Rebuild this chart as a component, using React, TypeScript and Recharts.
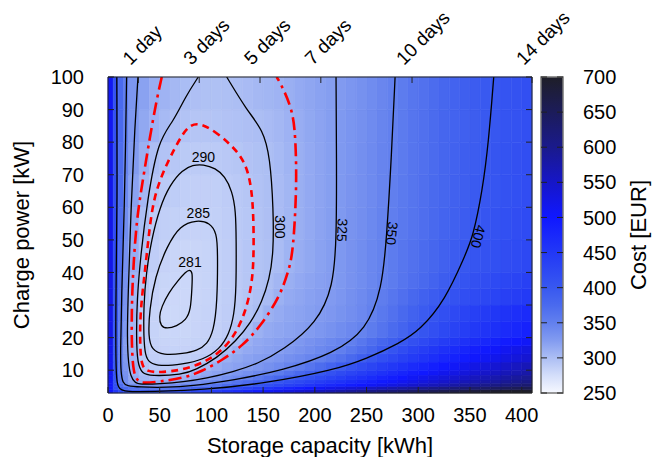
import React from "react";
import {
  ComposedChart,
  Line,
  ReferenceArea,
  Scatter,
  XAxis,
  YAxis,
} from "recharts";

const FONT = '"Liberation Sans", Arial, Helvetica, sans-serif';

// heat map cells: storage capacity edges [kWh] and charge power edges [kW]
const capacityEdges = [
  0, 5, 10, 15, 20, 30, 40, 50, 60, 70, 80, 90, 100, 110, 120, 130, 140, 150,
  160, 170, 180, 190, 200, 210, 220, 230, 240, 250, 260, 270, 280, 290, 300,
  310, 320, 330, 340, 350, 360, 370, 380, 390, 400, 410,
];
const powerEdges = [3, 4, 5, 6, 7, 8.5, 10, 12.5, 15, 17.5, 20, 25, 30, 35, 40, 50, 60, 70, 80, 90, 100];

// cost [EUR] per cell, one row per power band (bottom to top)
const cost3kW = [505, 450, 420, 405, 398, 397, 400, 405, 412, 420, 428, 437, 447, 458, 470, 482, 494, 506, 518, 530, 541, 552, 562, 572, 582, 591, 600, 609, 618, 626, 634, 642, 650, 657, 664, 671, 677, 683, 689, 695, 700, 705, 710];
const cost4kW = [505, 415, 385, 375, 365, 360, 358, 360, 365, 372, 380, 388, 398, 408, 420, 432, 444, 456, 468, 479, 490, 501, 511, 521, 531, 540, 549, 558, 567, 575, 583, 591, 599, 606, 613, 620, 626, 632, 638, 644, 649, 654, 659];
const cost5kW = [508, 412, 370, 348, 334, 328, 329, 333, 338, 344, 350, 356, 364, 373, 382, 392, 402, 413, 424, 434, 444, 454, 464, 473, 482, 491, 500, 509, 518, 527, 536, 545, 554, 562, 570, 578, 586, 594, 601, 608, 615, 622, 628];
const cost6kW = [510, 408, 356, 336, 320, 311, 312, 316, 321, 326, 332, 338, 344, 352, 362, 372, 383, 393, 403, 413, 423, 433, 442, 451, 460, 469, 478, 487, 496, 505, 514, 523, 532, 540, 548, 556, 564, 572, 579, 586, 593, 600, 607];
const cost7kW = [512, 405, 352, 336, 315, 304, 302, 303, 305, 309, 315, 321, 327, 334, 341, 348, 358, 369, 379, 390, 401, 411, 421, 431, 441, 451, 461, 471, 481, 491, 500, 509, 518, 527, 535, 543, 551, 559, 566, 573, 580, 587, 594];
const cost9kW = [514, 402, 349, 333, 310, 299, 297, 297, 298, 300, 308, 314, 319, 324, 329, 335, 341, 348, 355, 365, 376, 388, 399, 410, 420, 430, 440, 450, 460, 470, 480, 490, 499, 508, 517, 525, 533, 541, 549, 556, 563, 570, 577];
const cost11kW = [516, 398, 348, 330, 310, 296, 291, 290.5, 291, 292.5, 296, 303, 312, 317, 320.5, 324, 329, 334, 340, 346, 353, 362, 372, 383, 395, 407, 418, 429, 440, 450, 460, 470, 480, 489, 498, 507, 516, 525, 533, 541, 549, 557, 564];
const cost14kW = [518, 397, 347, 326, 308, 292, 287, 286, 286, 287, 288.5, 290, 299.5, 311, 316, 320, 323, 325, 330, 335, 340, 345, 350, 358, 366, 376, 390, 403, 414, 425, 436, 446, 456, 466, 476, 485, 494, 502, 510, 518, 526, 534, 541];
const cost16kW = [520, 398, 347, 324, 306, 290.5, 285, 284, 283.5, 284, 285, 287, 289.5, 300.5, 310, 315, 318, 321, 323.5, 327, 332, 337, 342, 347, 351, 360, 370, 381, 395, 407, 419, 431, 442, 452, 462, 471, 480, 489, 497, 505, 513, 521, 528];
const cost19kW = [520, 399, 348, 323, 305, 289.5, 284, 282.5, 282, 282.5, 283.5, 284.7, 287.5, 292, 301, 310.5, 315.5, 318.5, 321.5, 324, 328, 333, 337, 342, 346, 350.5, 360, 370, 380, 390, 401, 412, 423, 433, 443, 452, 461, 469, 477, 485, 493, 500, 507];
const cost22kW = [522, 402, 349, 327, 305.5, 289, 283.5, 281.5, 281, 281.5, 282.5, 284, 285.7, 289, 294.5, 301, 309.5, 314, 317, 319.5, 322, 325, 329, 333.5, 338, 342.5, 347.5, 355, 364, 374, 384, 394, 404, 414, 424, 433, 441, 449, 456, 463, 470, 477, 484];
const cost27kW = [522, 405, 352, 331, 306, 289.5, 283, 280.3, 280, 280.5, 282, 283.5, 285, 288, 291, 296.3, 300.8, 309.5, 313.8, 317, 319.5, 322.5, 325.2, 328.5, 332.5, 337, 342.5, 349, 358, 367, 376, 386, 395.5, 405, 414, 423, 431, 438, 445, 452, 458, 464, 470];
const cost32kW = [522, 405, 356, 332, 306, 290.5, 284, 281.2, 280.3, 280.3, 281.5, 283, 284.7, 287.5, 290.3, 294.5, 298.2, 302, 309.5, 314, 317.5, 321, 323.5, 325.5, 330, 335, 340.5, 346.5, 353, 361, 369, 378, 387, 395, 402, 409, 415, 421, 427, 432, 437, 442, 447];
const cost37kW = [522, 410, 362, 334, 308, 292.5, 285, 282.3, 281, 280.7, 281.5, 283, 284.8, 287.5, 290.3, 293.8, 297, 299.8, 305.5, 311, 315, 318.5, 321.5, 324, 328, 333, 338, 343.5, 349, 355, 362, 369, 377, 385, 393, 400, 406, 412, 417, 422, 427, 432, 437];
const cost45kW = [522, 420, 368, 335, 313, 297, 288, 284, 282, 281.5, 282, 283, 284.8, 287.5, 290.3, 293.5, 296.2, 298.8, 301.4, 307.5, 312, 316, 320, 323.8, 328, 333, 338, 343.5, 348.5, 355, 361, 367, 374, 381, 388, 395, 400, 405, 409, 413, 417, 421, 425];
const cost55kW = [522, 418, 370, 338, 316, 300, 290, 287, 285.5, 284.5, 284, 284.5, 286, 288, 290.5, 293, 296, 299, 302, 306, 311, 315, 319, 323, 327, 332, 337, 342, 347.5, 352.5, 358, 364, 370, 376, 383, 389, 395, 400, 405, 409, 413, 417, 421];
const cost65kW = [520, 415, 372, 343, 320, 305, 296, 291, 288.5, 287, 286.5, 286.5, 287, 289, 291.5, 294, 297, 299.5, 302, 306, 311, 315, 318.5, 322.5, 327, 331.5, 336, 341, 346, 351, 357, 363, 369, 375, 381, 387, 392, 397, 401, 405, 409, 413, 417];
const cost75kW = [518, 412, 372, 348, 325, 311, 300, 296, 293, 291, 290, 290, 290.5, 292, 294, 296.5, 298, 299.5, 303, 307, 311, 315, 318.5, 322.5, 327, 331, 336, 341, 346, 350, 356, 362, 368, 374, 380, 386, 391, 395, 400, 404, 408, 412, 416];
const cost85kW = [515, 412, 375, 349, 328, 316, 309, 303, 299, 296, 294.5, 294.5, 295.5, 296.5, 297.5, 299, 300, 302, 305, 308.5, 312, 316, 319, 323, 327, 331, 335, 340, 345, 350, 356, 362, 368, 374, 380, 385, 389, 393, 398, 402, 406, 410, 414];
const cost95kW = [512, 410, 375, 352, 330, 320, 312, 308, 304, 301, 299, 298, 298, 298.5, 300, 302, 304, 306, 308, 311, 314, 317, 320, 323, 326, 330, 334, 339, 344, 349, 355, 361, 367, 373, 379, 385, 390, 394, 398, 402, 406, 410, 414];

const costRows = [
  cost3kW, cost4kW, cost5kW, cost6kW, cost7kW, cost9kW, cost11kW, cost14kW,
  cost16kW, cost19kW, cost22kW, cost27kW, cost32kW, cost37kW, cost45kW,
  cost55kW, cost65kW, cost75kW, cost85kW, cost95kW,
];

const xTicks = [0, 50, 100, 150, 200, 250, 300, 350, 400];
const yTicks = [10, 20, 30, 40, 50, 60, 70, 80, 90, 100];
const dayTicks = [29.4, 88.2, 147, 205.8, 294, 410];
const dayLabels = ["1 day", "3 days", "5 days", "7 days", "10 days", "14 days"];
const costTicks = [250, 300, 350, 400, 450, 500, 550, 600, 650, 700];

// iso-cost lines [kWh, kW]
const contour281 = [[78.6, 40.9], [81.9, 40.2], [81.2, 35.6], [80, 28.4], [75.4, 25.4], [66.4, 23.5], [56.8, 22.7], [51, 23.5], [49.3, 26.4], [51.9, 29.5], [58.3, 33.6], [68, 37.7], [75.4, 40.2]];
const contour285 = [[85.8, 56.1], [98.6, 55.3], [105.1, 52], [106.1, 46.9], [105.7, 30.5], [102, 22], [96, 18], [86, 16], [72.8, 15.1], [53.5, 14.6], [42.3, 16.2], [39, 20.2], [40, 28.4], [45.5, 38.7], [56.8, 47.9], [69.6, 54.5]];
const contour290 = [[92, 73.2], [104, 72], [113, 69.5], [120, 65], [123.5, 59], [124, 50], [124, 35], [122, 27], [117, 21], [108, 16.5], [92, 13.2], [72, 11.8], [50, 11.2], [40, 12.2], [36, 14.5], [34.5, 20], [34.5, 30], [37, 40], [42, 50], [50, 60], [60, 67], [72, 71.5], [82, 73]];
const contour295 = [[89, 85.8], [101.9, 83.7], [119.6, 79.1], [134.1, 73.5], [140.5, 63.3], [141.2, 44.8], [139, 36], [133, 28], [124, 21.5], [112, 16.5], [95, 12.6], [72, 10], [50, 9.3], [37.4, 9.6], [32.5, 11.5], [31, 17], [31, 25.4], [33, 33], [35.8, 40.7], [39, 50], [43.8, 63.2], [56.7, 73.5], [71.3, 82.2], [79.3, 85.3]];
const contour300 = [[87.3, 100], [75, 94], [63, 86.2], [48.4, 80.6], [38, 62], [31.5, 45], [28, 31.5], [27.4, 20], [28.5, 12], [33, 9], [40.6, 8.2], [72, 8.6], [85, 10.2], [105, 13.6], [124, 19], [138, 24.5], [149, 31], [156, 38], [160, 45.8], [160, 59.2], [156.7, 75.5], [150, 83.7], [134, 89.9], [114.8, 100]];
const contour310 = [[52, 100], [47, 93], [40.6, 81.7], [32.6, 66.3], [27.7, 56], [24.5, 42], [23, 30.5], [22.8, 18], [24.5, 9], [29, 6.6], [34, 6], [50, 6.5], [72.8, 7.6], [90, 9.5], [111.5, 13.3], [130, 17.5], [147, 23.3], [166, 32.5], [174, 40], [179, 45.8], [182.5, 66.3], [181.5, 80], [179, 89.9], [166, 98.6], [163, 100]];
const contour325 = [[29, 100], [26, 85], [22.5, 62], [19.3, 31.5], [18.5, 20], [19.7, 12], [22, 8], [26, 6.2], [31, 5.6], [50, 5.8], [72.8, 6.4], [95, 7.5], [121, 9.5], [145, 12], [169.5, 16.2], [201.8, 24.4], [218, 35.6], [221, 51], [221, 75], [220.5, 100]];
const contour350 = [[18, 100], [17, 80], [16, 62], [13, 31.5], [12, 15], [12.5, 9], [14.5, 6], [18, 5.2], [30, 4.8], [56.7, 4.7], [80, 5.1], [121, 6.9], [169.5, 10], [218, 15.1], [250, 22.3], [265, 35], [269.5, 51], [274, 75], [277.6, 100]];
const contour400 = [[8.5, 100], [9, 62], [7.5, 31.5], [7.5, 12], [8.5, 6], [11, 4.2], [16, 3.6], [24, 3.4], [50, 3.5], [89, 3.9], [153.5, 6], [218, 10], [250, 13.5], [282, 18.3], [301.7, 22.3], [326, 31.5], [345, 45], [353, 51], [362, 65], [368, 80], [373, 100]];

const contourLabels = [
  { x: 79.3, y: 43.2, text: "281" },
  { x: 87.3, y: 58.3, text: "285" },
  { x: 92.2, y: 75.5, text: "290" },
  { x: 166.5, y: 54, text: "300" },
  { x: 226.5, y: 53, text: "325" },
  { x: 274.5, y: 52, text: "350" },
  { x: 358, y: 51, text: "400" },
];
const labelAngle: Record<string, number> = { "300": 90, "325": 92, "350": 96, "400": 105 };

const colorStops: [number, number[]][] = [
  [250, [246, 248, 255]],
  [275, [212, 222, 250]],
  [300, [172, 190, 244]],
  [325, [130, 155, 240]],
  [350, [98, 128, 238]],
  [375, [74, 106, 238]],
  [400, [56, 88, 240]],
  [450, [34, 56, 246]],
  [500, [16, 24, 255]],
  [550, [22, 22, 200]],
  [600, [26, 26, 140]],
  [650, [28, 28, 90]],
  [700, [30, 30, 40]],
];

function costColor(v: number) {
  for (let i = 1; i < colorStops.length; i++) {
    const [v0, c0] = colorStops[i - 1];
    const [v1, c1] = colorStops[i];
    if (v <= v1 || i === colorStops.length - 1) {
      const t = Math.max(0, Math.min(1, (v - v0) / (v1 - v0)));
      const c = c0.map((a, k) => Math.round(a + (c1[k] - a) * t));
      return `rgb(${c[0]},${c[1]},${c[2]})`;
    }
  }
  return "#000";
}

const toPoints = (pts: number[][]) => pts.map(([x, y]) => ({ x, y }));

const contours = [
  { id: "c281", pts: contour281, closed: true, color: "#000", width: 1.3, dash: undefined },
  { id: "c285", pts: contour285, closed: true, color: "#000", width: 1.3, dash: undefined },
  { id: "c290", pts: contour290, closed: true, color: "#000", width: 1.3, dash: undefined },
  { id: "c295", pts: contour295, closed: true, color: "#ff0000", width: 2.6, dash: "7 5" },
  { id: "c300", pts: contour300, closed: false, color: "#000", width: 1.3, dash: undefined },
  { id: "c310", pts: contour310, closed: false, color: "#ff0000", width: 2.6, dash: "13 5 3 5" },
  { id: "c325", pts: contour325, closed: false, color: "#000", width: 1.3, dash: undefined },
  { id: "c350", pts: contour350, closed: false, color: "#000", width: 1.3, dash: undefined },
  { id: "c400", pts: contour400, closed: false, color: "#000", width: 1.3, dash: undefined },
];

const tickStyle = { fontSize: 20, fill: "#000", fontFamily: FONT };
const titleStyle = { fontSize: 22, fill: "#000", fontFamily: FONT, textAnchor: "middle" as const };

function DayTick(props: any) {
  const { x, y, payload } = props;
  const ax = x - 8;
  const label = dayLabels[dayTicks.indexOf(payload.value)];
  return (
    <text
      x={ax}
      y={y}
      transform={`rotate(-45 ${ax} ${y})`}
      fontSize={19}
      fontFamily={FONT}
      fill="#000"
    >
      {label}
    </text>
  );
}

function ContourLabel(props: any) {
  const { cx, cy, payload } = props;
  const angle = labelAngle[payload.text] ?? 0;
  return (
    <text
      x={cx}
      y={cy}
      transform={angle ? `rotate(${angle} ${cx} ${cy})` : undefined}
      textAnchor="middle"
      dominantBaseline="central"
      fontSize={14}
      fontFamily={FONT}
      fill="#000"
    >
      {payload.text}
    </text>
  );
}

const NoShape = () => <g />;

export default function App() {
  const cells: React.ReactNode[] = [];
  costRows.forEach((row, r) =>
    row.forEach((v, c) => {
      const col = costColor(v);
      cells.push(
        <ReferenceArea
          key={`cell-${r}-${c}`}
          x1={capacityEdges[c]}
          x2={capacityEdges[c + 1]}
          y1={powerEdges[r]}
          y2={powerEdges[r + 1]}
          fill={col}
          fillOpacity={1}
          stroke={col}
          strokeWidth={0.6}
        />
      );
    })
  );

  const dayAnchors = dayTicks.map((d) => ({ x: d, y: 100 }));
  const costAnchors = costTicks.map((c) => ({ x: 0.5, c }));

  return (
    <div style={{ position: "relative", width: 648, height: 449, fontFamily: FONT }}>
      <div style={{ position: "absolute", left: 0, top: 0 }}>
        <ComposedChart width={620} height={449} margin={{ top: 0, right: 95, bottom: 0, left: 0 }}>
          <XAxis
            dataKey="x"
            type="number"
            domain={[0, 410]}
            ticks={xTicks}
            interval={0}
            allowDataOverflow
            height={64}
            tickSize={-6}
            tickMargin={21}
            stroke="#222"
            tick={tickStyle}
            label={{ value: "Storage capacity [kWh]", position: "insideBottom", offset: 4, style: titleStyle }}
          />
          <XAxis
            xAxisId="days"
            dataKey="x"
            orientation="top"
            type="number"
            domain={[0, 410]}
            ticks={dayTicks}
            interval={0}
            allowDataOverflow
            height={69}
            tickSize={-6}
            tickMargin={17}
            stroke="#222"
            tick={(p: any) => <DayTick {...p} />}
          />
          <YAxis
            dataKey="y"
            type="number"
            domain={[3, 100]}
            ticks={yTicks}
            interval={0}
            allowDataOverflow
            width={100}
            tickSize={-6}
            tickMargin={30}
            stroke="#222"
            tick={tickStyle}
            label={{ value: "Charge power [kW]", angle: -90, position: "insideLeft", offset: 13, style: titleStyle }}
          />
          <YAxis
            yAxisId="right"
            dataKey="y"
            orientation="right"
            type="number"
            domain={[3, 100]}
            ticks={yTicks}
            interval={0}
            allowDataOverflow
            width={1}
            tickSize={-6}
            stroke="#222"
            tickFormatter={() => ""}
          />
          {cells}
          {contours.map((c) => (
            <Line
              key={c.id}
              data={toPoints(c.pts)}
              dataKey="y"
              type={c.closed ? "basisClosed" : "basis"}
              stroke={c.color}
              strokeWidth={c.width}
              strokeDasharray={c.dash}
              dot={false}
              activeDot={false}
              isAnimationActive={false}
            />
          ))}
          <Scatter
            data={contourLabels}
            dataKey="y"
            shape={(p: any) => <ContourLabel {...p} />}
            isAnimationActive={false}
          />
          <Scatter xAxisId="days" yAxisId="right" data={dayAnchors} dataKey="y" shape={NoShape} isAnimationActive={false} />
        </ComposedChart>
      </div>
      <div style={{ position: "absolute", left: 532, top: 0 }}>
        <ComposedChart width={120} height={449} margin={{ top: 69, right: 0, bottom: 64, left: 0 }}>
          <defs>
            <linearGradient id="cbarGrad" x1="0" y1="1" x2="0" y2="0">
              {colorStops.map(([v, c]) => (
                <stop key={v} offset={(v - 250) / 450} stopColor={`rgb(${c[0]},${c[1]},${c[2]})`} />
              ))}
            </linearGradient>
          </defs>
          <XAxis dataKey="x" type="number" domain={[0, 1]} hide />
          <YAxis
            yAxisId="cbl"
            dataKey="c"
            orientation="left"
            type="number"
            domain={[250, 700]}
            ticks={costTicks}
            interval={0}
            allowDataOverflow
            width={1}
            tickSize={-6}
            axisLine={false}
            stroke="#222"
            tickFormatter={() => ""}
          />
          <YAxis
            yAxisId="cb"
            dataKey="c"
            orientation="right"
            type="number"
            domain={[250, 700]}
            ticks={costTicks}
            interval={0}
            allowDataOverflow
            width={97}
            tickSize={-6}
            tickMargin={26}
            axisLine={false}
            stroke="#222"
            tick={tickStyle}
            label={{ value: "Cost [EUR]", angle: -90, position: "insideRight", offset: 22, style: titleStyle }}
          />
          <ReferenceArea
            yAxisId="cb"
            y1={250}
            y2={700}
            fill="url(#cbarGrad)"
            fillOpacity={1}
            stroke="#777"
            strokeWidth={1.5}
          />
          <Scatter yAxisId="cb" data={costAnchors} dataKey="c" shape={NoShape} isAnimationActive={false} />
          <Scatter yAxisId="cbl" data={costAnchors} dataKey="c" shape={NoShape} isAnimationActive={false} />
        </ComposedChart>
      </div>
    </div>
  );
}
